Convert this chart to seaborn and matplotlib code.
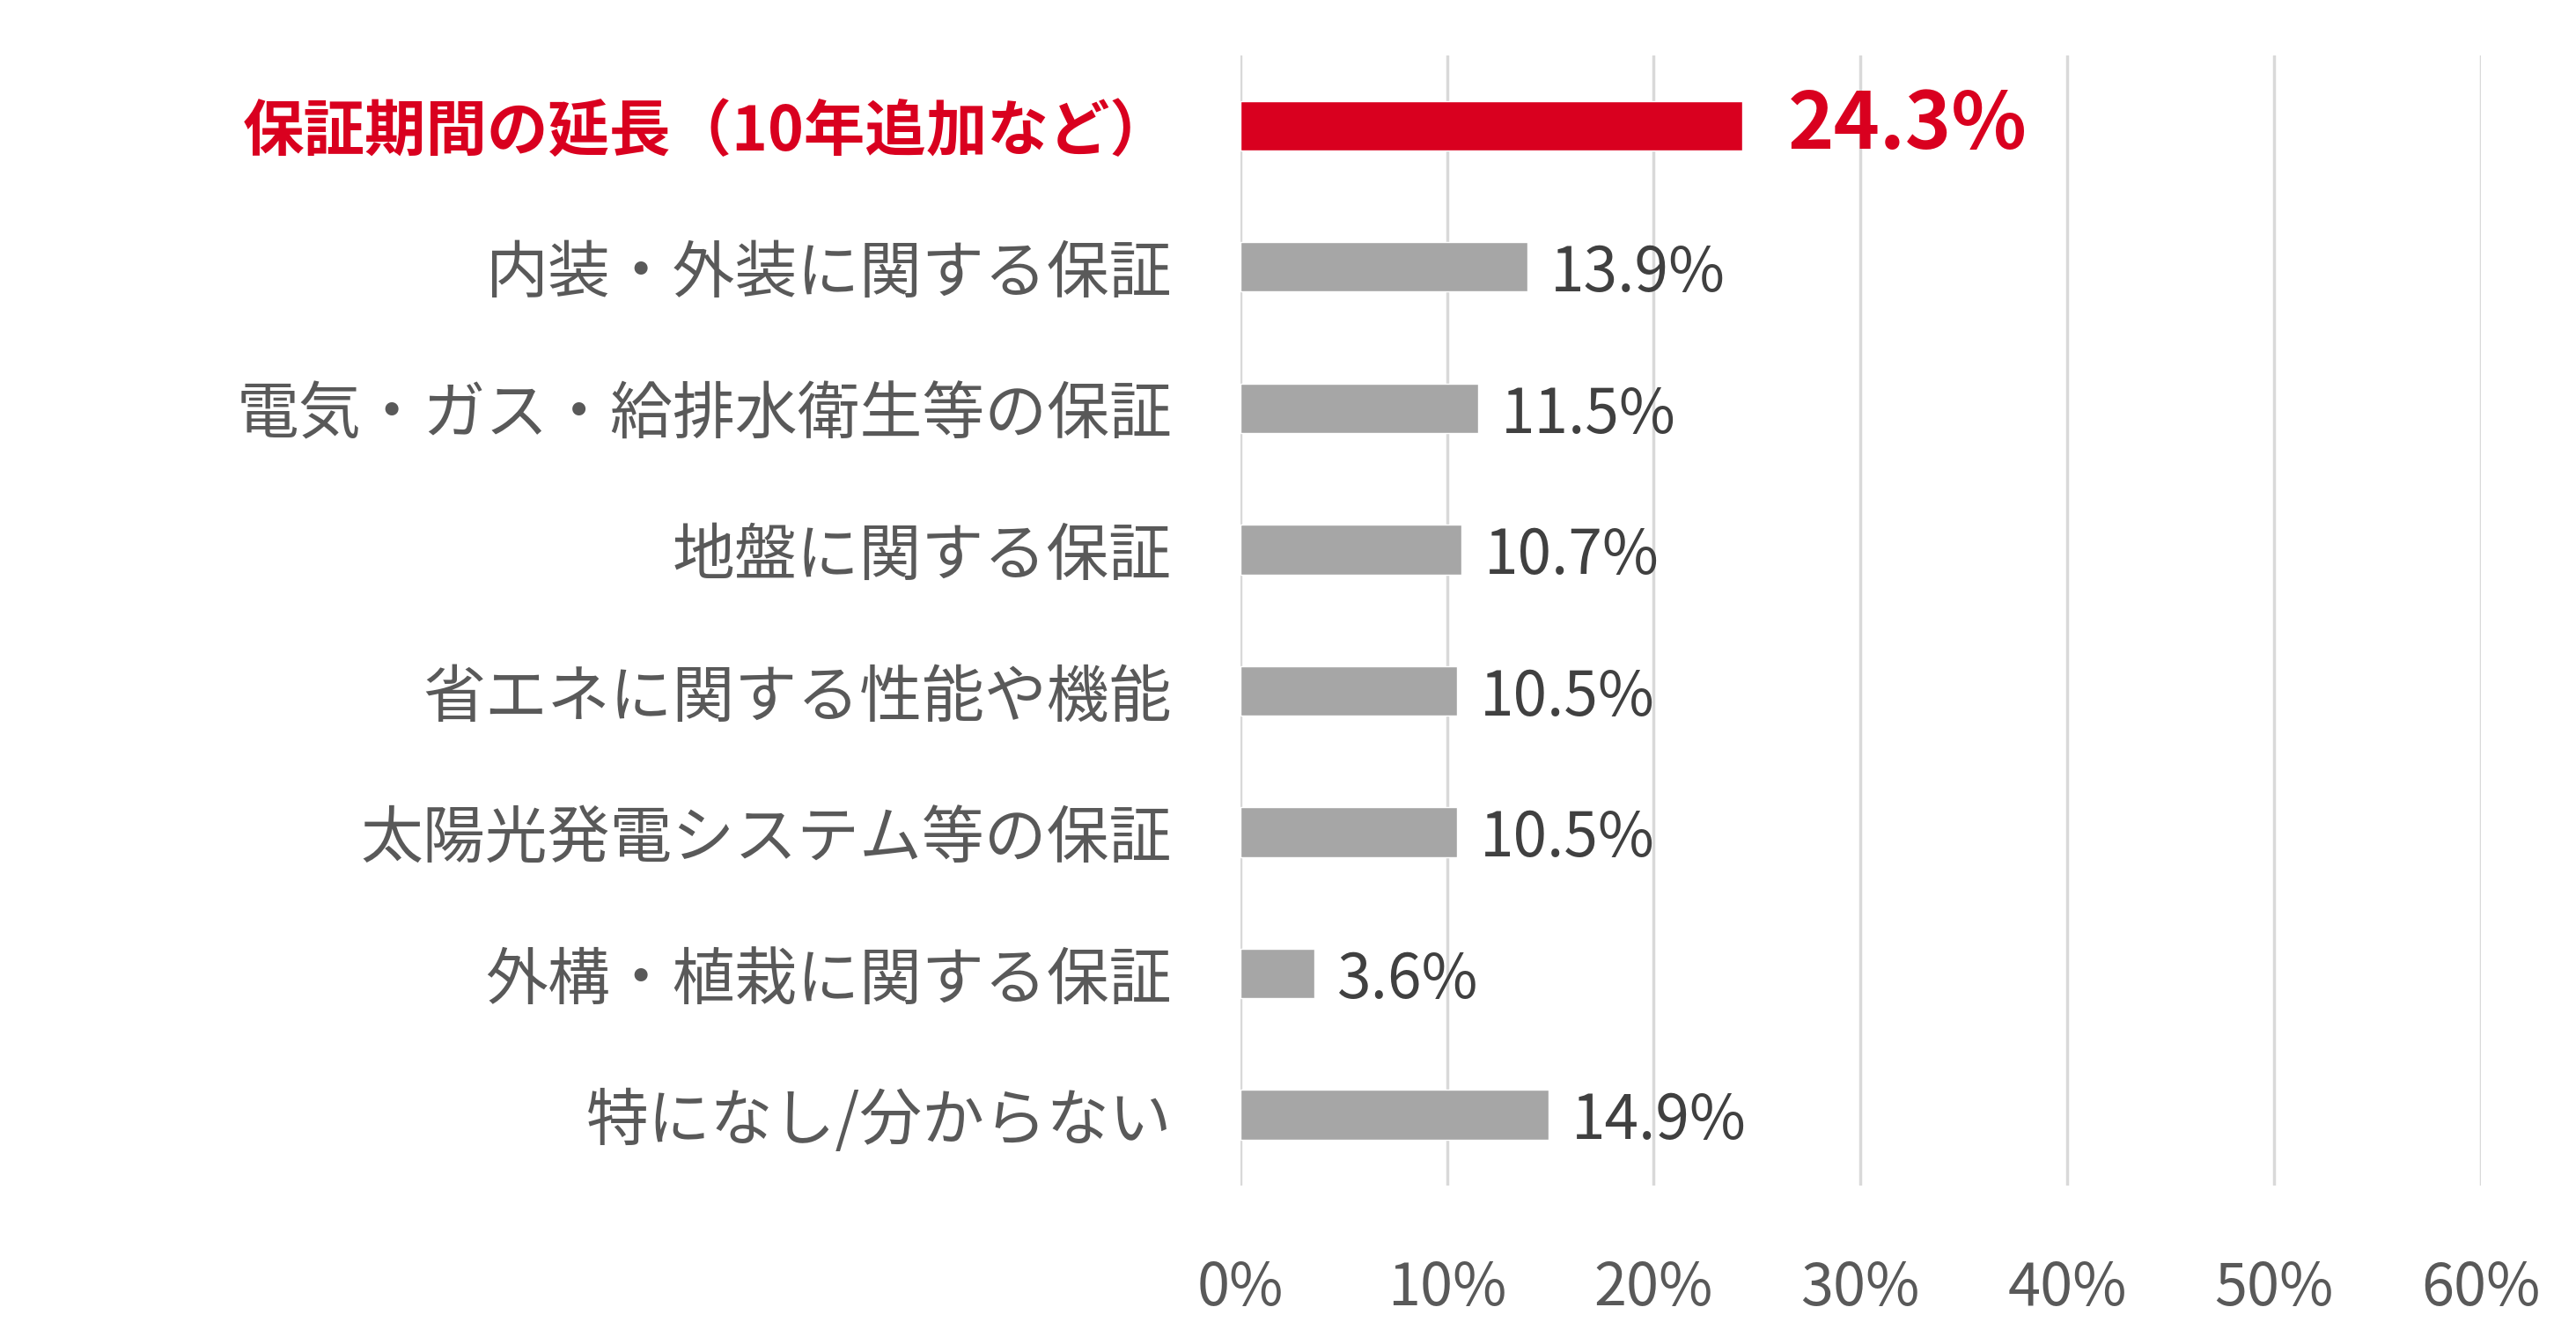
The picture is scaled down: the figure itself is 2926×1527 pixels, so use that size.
import matplotlib
matplotlib.use("Agg")
import matplotlib.pyplot as plt
import seaborn as sns
import pandas as pd

# data
categories = [
    "保証期間の延長（10年追加など）",
    "内装・外装に関する保証",
    "電気・ガス・給排水衛生等の保証",
    "地盤に関する保証",
    "省エネに関する性能や機能",
    "太陽光発電システム等の保証",
    "外構・植栽に関する保証",
    "特になし/分からない",
]
values = [24.3, 13.9, 11.5, 10.7, 10.5, 10.5, 3.6, 14.9]
xticks = [0, 10, 20, 30, 40, 50, 60]

RED = "#D9001F"
GREY = "#A6A6A6"
colors = [RED] + [GREY] * (len(categories) - 1)

sns.set_theme(style="white")
plt.rcParams["font.family"] = ["Noto Sans CJK JP", "DejaVu Sans"]

df = pd.DataFrame({"cat": categories, "val": values})

fig = plt.figure(figsize=(29.26, 15.27), dpi=100)
ax = fig.add_axes([0.4815, 0.118, 0.4815, 0.841])

sns.barplot(data=df, x="val", y="cat", hue="cat", palette=colors,
            legend=False, width=0.35, ax=ax, saturation=1)

ax.set_xlim(0, 60)
ax.set_ylim(len(categories) - 0.5, -0.5)
ax.set_xticks(xticks)
ax.set_xticklabels([f"{t}%" for t in xticks])
ax.set_xlabel("")
ax.set_ylabel("")

for s in ax.spines.values():
    s.set_visible(False)
ax.grid(axis="x", color="#D9D9D9", linewidth=2.5)
ax.set_axisbelow(True)
ax.tick_params(axis="both", length=0)
ax.tick_params(axis="x", pad=60, labelsize=48, labelcolor="#595959")
ax.tick_params(axis="y", pad=56, labelsize=51, labelcolor="#595959")

for i, lbl in enumerate(ax.get_yticklabels()):
    if i == 0:
        lbl.set_color(RED)
        lbl.set_fontweight("bold")
        lbl.set_fontsize(50)

# value labels
for i, v in enumerate(values):
    if i == 0:
        ax.text(v + 2.2, i, f"{v}%", va="center", ha="left",
                fontsize=64, fontweight="bold", color=RED)
    else:
        ax.text(v + 1.1, i + 0.05, f"{v}%", va="center", ha="left",
                fontsize=50, color="#404040")

fig.savefig("out.png", dpi=100)
